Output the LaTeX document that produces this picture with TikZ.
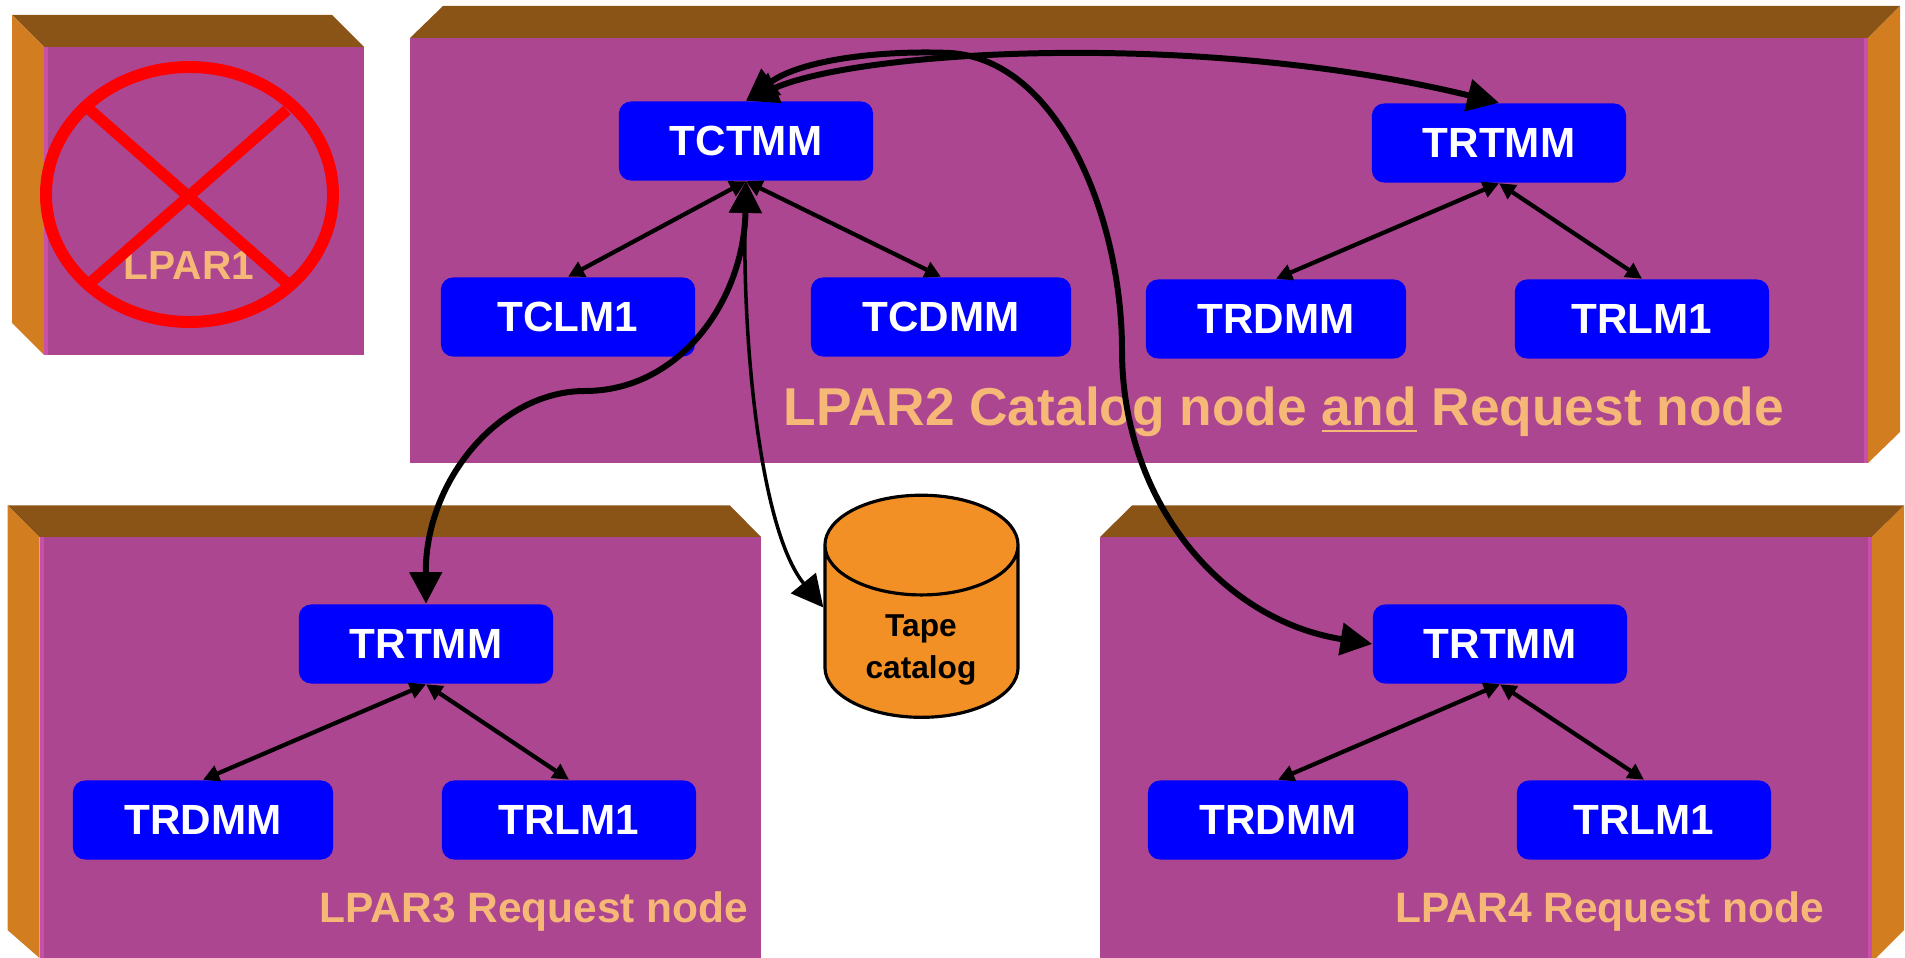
\documentclass[tikz,border=0pt]{standalone}
\usepackage{fontspec}
\setmainfont{Liberation Sans}
\usetikzlibrary{arrows.meta,shapes.geometric}
\definecolor{lparfront}{HTML}{AD4690}
\definecolor{lpartop}{HTML}{8B5417}
\definecolor{lparside}{HTML}{D37D21}
\definecolor{lparedge}{HTML}{C850A8}
\definecolor{lparlabel}{HTML}{F6B877}
\definecolor{tapefill}{HTML}{F28F25}
\tikzset{
  memberbox/.style={rounded corners=0.12cm, fill=blue, text=white, inner sep=0pt, minimum height=0.79cm, font=\bfseries\fontsize{12}{14}\selectfont},
  narrowbox/.style={memberbox, minimum width=2.54cm},
  widebox/.style={memberbox, minimum width=2.60cm},
  lparlabel/.style={text=lparlabel, inner sep=0pt, font=\bfseries\fontsize{12.08}{14}\selectfont},
  thinlink/.style={{Triangle[length=4.6pt,width=4.6pt]}-{Triangle[length=4.6pt,width=4.6pt]}, line width=1.2pt},
  thicklink/.style={{Triangle[length=9pt,width=9pt]}-{Triangle[length=9pt,width=9pt]}, line width=1.7pt},
}
\begin{document}
\begin{tikzpicture}[x=0.01cm, y=-0.01cm]
    \useasboundingbox (0,0) rectangle (1905,958);
    % LPAR1
    \fill[lpartop] (12,15) -- (332,15) -- (364,47) -- (44,47) -- cycle;
    \fill[lparside] (12,15) -- (44,47) -- (44,355) -- (12,323) -- cycle;
    \fill[lparfront] (44,47) rectangle (364,355);
    \fill[lparedge] (44,47) rectangle (48,355);
    % LPAR2
    \fill[lpartop] (443,6) -- (1900,6) -- (1868,38) -- (410,38) -- cycle;
    \fill[lparside] (1868,38) -- (1900,6) -- (1900,432) -- (1868,463) -- cycle;
    \fill[lparfront] (410,38) rectangle (1868,463);
    \fill[lparedge] (1864,38) rectangle (1868,463);
    % LPAR3
    \fill[lpartop] (7.5,505.5) -- (730,505.5) -- (761,537) -- (39.5,537) -- cycle;
    \fill[lparside] (7.5,505.5) -- (39.5,537) -- (39.5,958) -- (7.5,930) -- cycle;
    \fill[lparfront] (39.5,537) rectangle (761,958);
    \fill[lparedge] (39.5,537) rectangle (43.5,958);
    % LPAR4
    \fill[lpartop] (1132,505.5) -- (1904,505.5) -- (1872,537) -- (1100,537) -- cycle;
    \fill[lparside] (1872,537) -- (1904,505.5) -- (1904,930) -- (1876,958) -- (1872,958) -- cycle;
    \fill[lparfront] (1100,537) rectangle (1872,958);
    \fill[lparedge] (1868,537) rectangle (1872,958);

    \node[lparlabel, font=\bfseries\fontsize{11.55}{13}\selectfont] (lparone) at (189,266) {LPAR1};
    \node[lparlabel, font=\bfseries\fontsize{15.16}{18}\selectfont] (lpartwo) at (1284,412) {LPAR2 Catalog node \underline{and} Request node};
    \node[lparlabel] (lparthree) at (534,912) {LPAR3 Request node};
    \node[lparlabel] (lparfour) at (1610,912) {LPAR4 Request node};

    % crossed out
    \draw[red, line width=3.4pt] (189.5,194.5) ellipse (143.5 and 127.5);
    \draw[red, line width=3.2pt] (90,110) -- (287,283);
    \draw[red, line width=3.2pt] (287,110) -- (90,283);

    \node[narrowbox] (tctmm) at (746,141) {TCTMM};
    \node[narrowbox] (tclm) at (568,317) {TCLM1};
    \node[widebox] (tcdmm) at (941,317) {TCDMM};
    \node[narrowbox] (trtmmb) at (1499,143) {TRTMM};
    \node[widebox] (trdmmb) at (1276,319) {TRDMM};
    \node[narrowbox] (trlmb) at (1642,319) {TRLM1};
    \node[narrowbox] (trtmmc) at (426,644) {TRTMM};
    \node[widebox] (trdmmc) at (203,820) {TRDMM};
    \node[narrowbox] (trlmc) at (569,820) {TRLM1};
    \node[narrowbox] (trtmmd) at (1500,644) {TRTMM};
    \node[widebox] (trdmmd) at (1278,820) {TRDMM};
    \node[narrowbox] (trlmd) at (1644,820) {TRLM1};

    \node[cylinder, shape border rotate=90, aspect=0.9, draw=black, line width=0.9pt, fill=tapefill, inner sep=0pt,
          minimum width=1.93cm, minimum height=2.22cm, align=center, font=\bfseries\fontsize{9}{11.7}\selectfont] (tape) at (921.5,632) {\phantom{Tape}\\\phantom{catalog}};
    \node[align=center, inner sep=0pt, font=\bfseries\fontsize{9}{11.7}\selectfont] (tapetext) at (921,650) {Tape\\catalog};

    \draw[thinlink] (tctmm.south) -- (tclm.north);
    \draw[thinlink] (tctmm.south) -- (tcdmm.north);
    \draw[thinlink] (trtmmb.south) -- (trdmmb.north);
    \draw[thinlink] (trtmmb.south) -- (trlmb.north);
    \draw[thinlink] (trtmmc.south) -- (trdmmc.north);
    \draw[thinlink] (trtmmc.south) -- (trlmc.north);
    \draw[thinlink] (trtmmd.south) -- (trdmmd.north);
    \draw[thinlink] (trtmmd.south) -- (trlmd.north);

    \draw[thicklink] (tctmm.north) .. controls (860,50) and (1200,30) .. (trtmmb.north);
    \draw[thicklink] (tctmm.north) .. controls (800,60) and (880,50) .. (950,53)
        .. controls (1060,60) and (1122,220) .. (1122,350)
        .. controls (1122,500) and (1220,620) .. (trtmmd.west);
    \draw[thicklink] (tctmm.south) .. controls (744,300) and (680,391) .. (585,391)
        .. controls (500,391) and (425,480) .. (trtmmc.north);
    \draw[thicklink, line width=1pt] (tctmm.south) .. controls (742,340) and (760,530) .. (tape.166);
\end{tikzpicture}
\end{document}
